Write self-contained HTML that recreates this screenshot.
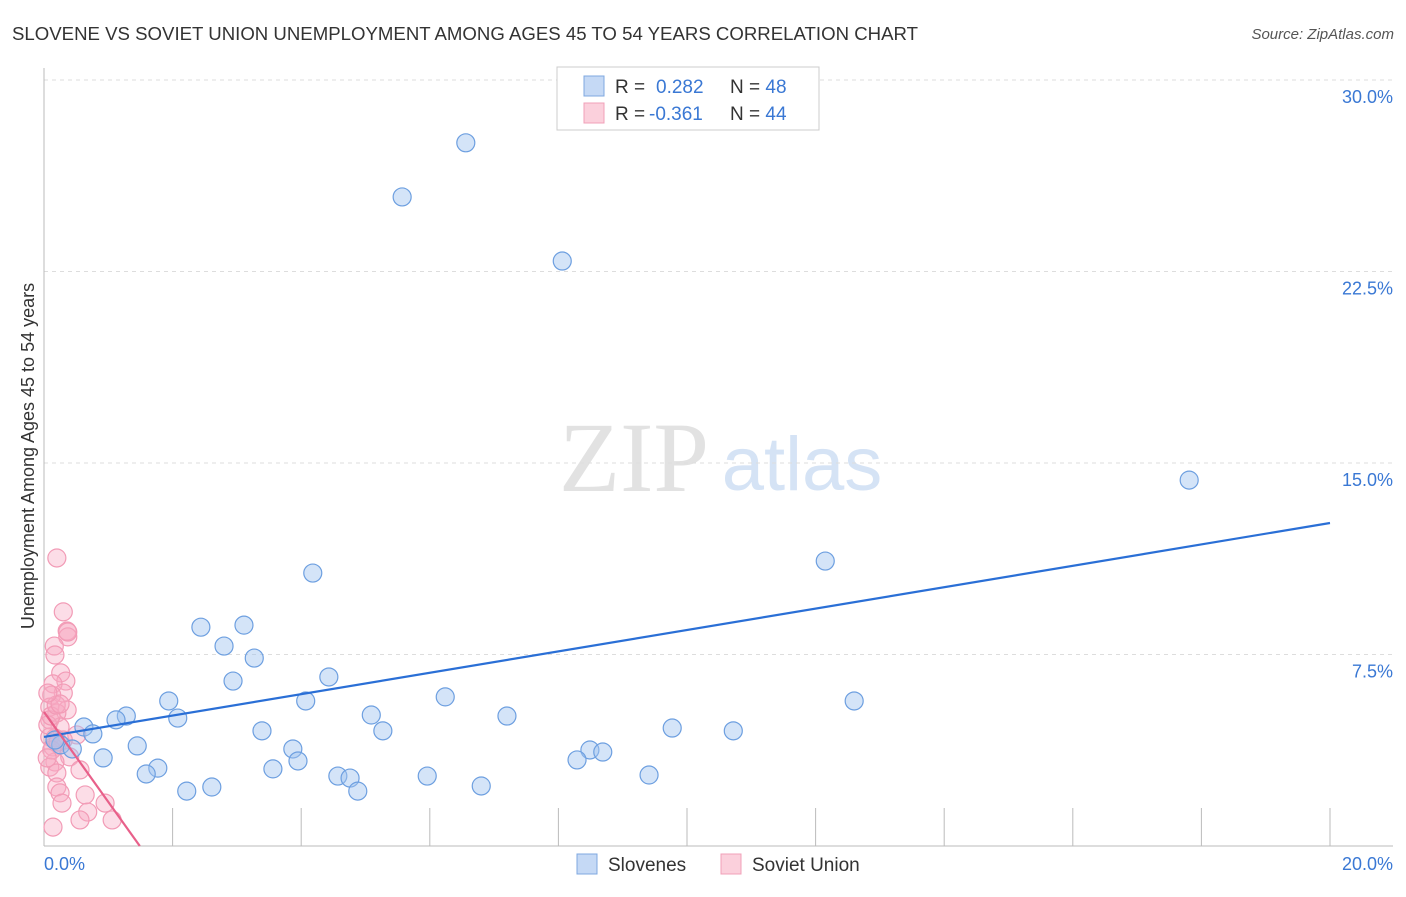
<!DOCTYPE html>
<html><head><meta charset="utf-8"><style>
body{margin:0;background:#fff;font-family:"Liberation Sans",sans-serif}
</style></head><body>
<svg width="1406" height="892" xmlns="http://www.w3.org/2000/svg">
<text x="12" y="40" font-size="18" fill="#333" textLength="906" lengthAdjust="spacingAndGlyphs">SLOVENE VS SOVIET UNION UNEMPLOYMENT AMONG AGES 45 TO 54 YEARS CORRELATION CHART</text>
<text x="1394" y="39" font-size="15" font-style="italic" fill="#555" text-anchor="end">Source: ZipAtlas.com</text>
<text x="634" y="491" font-size="100" font-family="Liberation Serif,serif" fill="#e2e2e2" text-anchor="middle">ZIP</text>
<text x="802" y="490" font-size="76" fill="#d5e3f5" text-anchor="middle">atlas</text>
<g id="grid"></g>
<line x1="44" y1="68" x2="44" y2="846" stroke="#bbb"/>
<line x1="44" y1="846" x2="1393" y2="846" stroke="#bbb"/>
<text transform="translate(34,456) rotate(-90)" font-size="18" fill="#333" text-anchor="middle">Unemployment Among Ages 45 to 54 years</text>
<text x="44" y="870" font-size="18" fill="#3a78d4">0.0%</text>
<text x="1393" y="870" font-size="18" fill="#3a78d4" text-anchor="end">20.0%</text>
<g id="marks"></g>
<g>
<rect x="557" y="67" width="262" height="63" fill="#fff" stroke="#ccc"/>
<rect x="584" y="76" width="20" height="20" fill="#c5d9f5" stroke="#7fa8e0"/>
<rect x="584" y="103" width="20" height="20" fill="#fbd0dc" stroke="#f0a0b8"/>
<text x="615" y="93" font-size="19" fill="#333">R = <tspan fill="#3a78d4" x="656">0.282</tspan><tspan x="730" fill="#333">N = </tspan><tspan fill="#3a78d4">48</tspan></text>
<text x="615" y="120" font-size="19" fill="#333">R = <tspan fill="#3a78d4" x="649">-0.361</tspan><tspan x="730" fill="#333">N = </tspan><tspan fill="#3a78d4">44</tspan></text>
</g>
<g>
<rect x="577" y="854" width="20" height="20" fill="#c5d9f5" stroke="#7fa8e0"/>
<text x="608" y="871" font-size="19" fill="#333">Slovenes</text>
<rect x="721" y="854" width="20" height="20" fill="#fbd0dc" stroke="#f0a0b8"/>
<text x="752" y="871" font-size="19" fill="#333">Soviet Union</text>
</g>
</svg>
<script>
const yTicks=[7.5,15,22.5,30];
const yTickLabels=["7.5%","15.0%","22.5%","30.0%"];
const xTicks=[2,4,6,8,10,12,14,16,18,20];
const blueX=[6.56,5.57,8.06,17.81,12.15,4.18,2.44,3.11,2.80,3.27,2.94,4.43,1.94,4.07,6.24,12.60,2.08,1.28,1.12,0.62,0.76,5.09,7.20,9.77,10.72,3.39,5.27,1.45,0.26,0.44,0.92,3.87,3.95,8.49,8.69,8.29,1.77,1.59,3.56,4.57,4.76,5.96,9.41,2.22,2.61,4.88,6.80,0.17];
const blueY=[27.54,25.42,22.91,14.33,11.16,10.69,8.57,8.65,7.83,7.36,6.46,6.62,5.68,5.68,5.84,5.68,5.01,5.09,4.94,4.66,4.39,5.13,5.09,4.62,4.51,4.51,4.51,3.92,3.96,3.80,3.45,3.80,3.33,3.76,3.68,3.37,3.05,2.82,3.02,2.74,2.66,2.74,2.78,2.15,2.31,2.15,2.35,4.15];
const pinkX=[0.20,0.30,0.36,0.37,0.16,0.17,0.26,0.34,0.14,0.30,0.12,0.36,0.09,0.20,0.09,0.25,0.51,0.09,0.30,0.14,0.40,0.17,0.09,0.20,0.56,0.20,0.25,0.64,0.28,0.95,0.68,0.56,1.06,0.14,0.17,0.06,0.11,0.19,0.25,0.37,0.06,0.12,0.22,0.05];
const pinkY=[11.28,9.17,8.42,8.19,7.83,7.48,6.78,6.46,6.35,5.99,5.91,5.33,5.44,5.21,4.94,4.66,4.35,4.27,4.15,3.88,3.49,3.29,3.09,2.86,2.98,2.31,2.08,2.00,1.68,1.68,1.33,1.02,1.02,0.74,4.23,4.74,5.09,5.52,5.56,8.38,5.99,3.76,4.07,3.45];
const blueTrend=[[0,4.27],[20,12.65]];
const pinkTrend=[[0,5.25],[1.49,0]];
const NS="http://www.w3.org/2000/svg";
const sx=v=>44+v/20*1286, sy=v=>846-v/30*766;
function mk(t,a,p){const e=document.createElementNS(NS,t);for(const k in a)e.setAttribute(k,a[k]);p.appendChild(e);return e;}
const grid=document.getElementById('grid'), marks=document.getElementById('marks');
yTicks.forEach((v,i)=>{
 const l=mk('line',{x1:44,x2:1393,y1:sy(v),y2:sy(v),stroke:'#ddd','stroke-dasharray':'4,4'},grid);
 
 
 const t=mk('text',{x:1393,y:sy(v)+23,'font-size':18,fill:'#3a78d4','text-anchor':'end'},grid);
 t.textContent=yTickLabels[i];
 
 
});
xTicks.forEach(v=>{
 const l=mk('line',{x1:sx(v),x2:sx(v),y1:808,y2:846,stroke:'#bbb'},grid);
 
 
});
pinkX.forEach((x,i)=>{
 const c=mk('circle',{cx:sx(x),cy:sy(pinkY[i]),r:9,fill:'rgba(247,170,195,0.4)',stroke:'#f29bb6','stroke-width':1.2},marks);
 
 
});
blueX.forEach((x,i)=>{
 const c=mk('circle',{cx:sx(x),cy:sy(blueY[i]),r:9,fill:'rgba(160,195,240,0.45)',stroke:'#6d9fe0','stroke-width':1.2},marks);
 
 
});
const bl=mk('line',{x1:sx(blueTrend[0][0]),y1:sy(blueTrend[0][1]),x2:sx(blueTrend[1][0]),y2:sy(blueTrend[1][1]),stroke:'#2a6fd6','stroke-width':2.2},marks);


const pl=mk('line',{x1:sx(pinkTrend[0][0]),y1:sy(pinkTrend[0][1]),x2:sx(pinkTrend[1][0]),y2:sy(pinkTrend[1][1]),stroke:'#e8608a','stroke-width':2.2},marks);


</script>
</body></html>
